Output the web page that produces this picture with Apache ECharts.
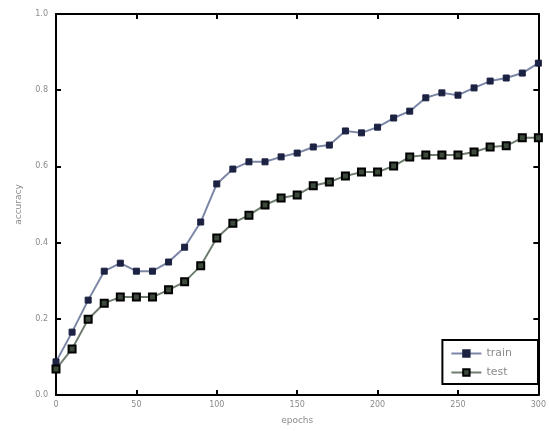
<!DOCTYPE html>
<html>
<head>
<meta charset="utf-8">
<script src="https://cdn.jsdelivr.net/npm/echarts@6/dist/echarts.min.js"></script>
<style>
  html, body { margin: 0; padding: 0; background: #fff; }
  #chart { width: 549px; height: 431px; }
</style>
</head>
<body>
<div id="chart"></div>
<script>
// epochs sampled every 10
const epochs = [0, 10, 20, 30, 40, 50, 60, 70, 80, 90, 100, 110, 120, 130, 140, 150,
  160, 170, 180, 190, 200, 210, 220, 230, 240, 250, 260, 270, 280, 290, 300]

const trainAcc = [0.087, 0.165, 0.249, 0.325, 0.346, 0.325, 0.325, 0.349, 0.388, 0.454, 0.554,
  0.593, 0.612, 0.612, 0.625, 0.635, 0.651, 0.656, 0.693, 0.688, 0.703,
  0.727, 0.745, 0.780, 0.793, 0.787, 0.806, 0.824, 0.832, 0.845, 0.871]

const testAcc = [0.068, 0.121, 0.199, 0.241, 0.257, 0.257, 0.257, 0.276, 0.297, 0.339, 0.412,
  0.451, 0.472, 0.499, 0.517, 0.525, 0.549, 0.559, 0.575, 0.585, 0.585,
  0.601, 0.625, 0.630, 0.630, 0.630, 0.638, 0.651, 0.654, 0.675, 0.675]

const xTicks = [0, 50, 100, 150, 200, 250, 300]
const yTicks = ['0.0', '0.2', '0.4', '0.6', '0.8', '1.0']

const chart = echarts.init(document.getElementById('chart'))
const labelColor = '#8a8a8a'
const frame = { show: true, onZero: false, lineStyle: { color: '#000', width: 2 } }
const tick = { show: true, inside: true, length: 5, lineStyle: { color: '#000', width: 2 } }

chart.setOption({
  animation: false,
  grid: { left: 56, right: 4, top: 14, bottom: 36, containLabel: false },
  legend: {
    right: 11,
    bottom: 47,
    orient: 'vertical',
    itemGap: 8,
    itemWidth: 30,
    itemHeight: 8,
    padding: [8, 26, 6, 8],
    borderColor: '#000',
    borderWidth: 2,
    textStyle: { color: labelColor, fontSize: 11, fontFamily: 'DejaVu Sans' },
    data: ['train', 'test'],
  },
  xAxis: [
    {
      type: 'value', min: 0, max: 300, interval: 50,
      name: 'epochs', nameLocation: 'middle', nameGap: 21,
      nameTextStyle: { color: labelColor, fontSize: 9, fontFamily: 'DejaVu Sans' },
      axisLine: frame, axisTick: tick,
      axisLabel: { color: labelColor, fontSize: 8, margin: 6, fontFamily: 'DejaVu Sans',
        formatter: (v) => xTicks.includes(v) ? String(v) : '' },
      splitLine: { show: false },
    },
    {
      type: 'value', min: 0, max: 300, interval: 50, position: 'top',
      axisLine: frame, axisTick: tick, axisLabel: { show: false }, splitLine: { show: false },
    },
  ],
  yAxis: [
    {
      type: 'value', min: 0, max: 1, interval: 0.2,
      name: 'accuracy', nameLocation: 'middle', nameGap: 33, nameRotate: 90,
      nameTextStyle: { color: labelColor, fontSize: 9, fontFamily: 'DejaVu Sans' },
      axisLine: frame, axisTick: tick,
      axisLabel: { color: labelColor, fontSize: 8, margin: 8, fontFamily: 'DejaVu Sans',
        formatter: (v) => yTicks[Math.round(v / 0.2)] },
      splitLine: { show: false },
    },
    {
      type: 'value', min: 0, max: 1, interval: 0.2, position: 'right',
      axisLine: frame, axisTick: tick, axisLabel: { show: false }, splitLine: { show: false },
    },
  ],
  series: [
    {
      name: 'train',
      type: 'line',
      data: epochs.map((e, i) => [e, trainAcc[i]]),
      symbol: 'rect',
      symbolSize: 6,
      lineStyle: { color: '#7c86a6', width: 2 },
      itemStyle: { color: '#1c2242', borderColor: '#1c2242', borderWidth: 1 },
    },
    {
      name: 'test',
      type: 'line',
      data: epochs.map((e, i) => [e, testAcc[i]]),
      symbol: 'rect',
      symbolSize: 7,
      lineStyle: { color: '#6f7d6f', width: 2 },
      itemStyle: { color: '#3c4a3c', borderColor: '#000', borderWidth: 2 },
    },
  ],
})
</script>
</body>
</html>
